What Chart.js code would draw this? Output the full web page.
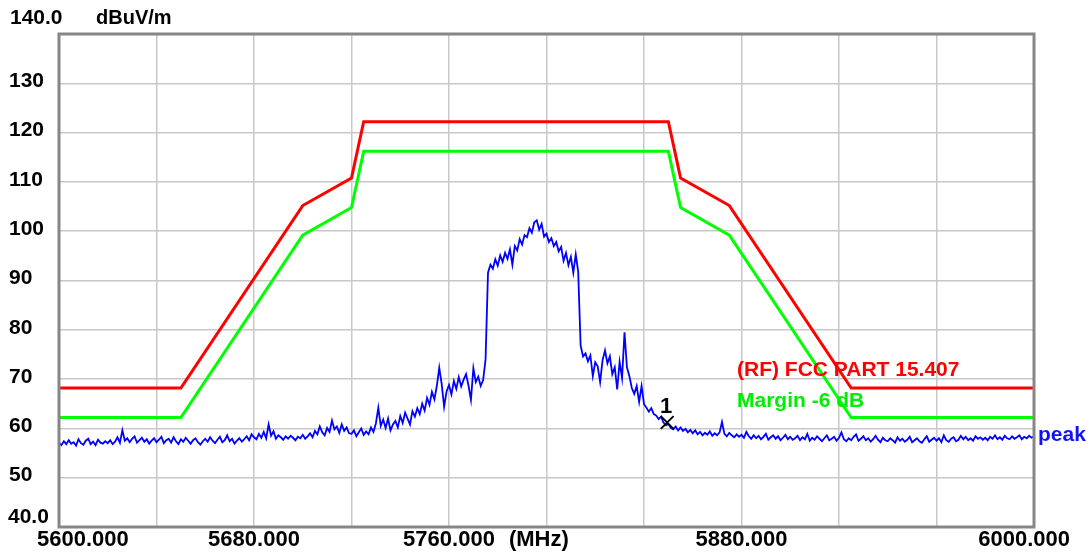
<!DOCTYPE html>
<html>
<head>
<meta charset="utf-8">
<script src="https://cdn.jsdelivr.net/npm/chart.js@4.4.1/dist/chart.umd.min.js"></script>
<style>
  html, body { margin: 0; padding: 0; background: #fff; }
  #wrap { width: 1091px; height: 555px; position: relative; }
</style>
</head>
<body>
<div id="wrap"><canvas id="myChart"></canvas></div>
<script>
// data

const FREQ_START = 5600;   // MHz, first trace sample
const FREQ_STEP = 1;       // MHz between trace samples

// measured peak trace, dBuV/m, 5600..6000 MHz
const peakTrace = [
  57.1, 56.6, 57.4, 56.8, 57.6, 56.9, 57.2, 56.5, 57.8, 57.0, 56.7, 57.5, 57.9, 56.8, 57.3, 56.6, 57.7, 57.1, 56.9, 57.4,
  57.0, 57.6, 56.8, 57.3, 58.2, 57.1, 59.6, 57.5, 58.0, 57.2, 57.9, 58.4, 57.1, 57.6, 58.1, 57.3, 57.8, 56.9, 57.5, 58.0,
  57.2, 57.7, 58.3, 57.0, 57.6, 57.9, 57.1, 58.2, 57.4, 56.8, 57.8, 57.3, 58.1, 57.5, 56.9, 57.6, 58.0, 57.2, 56.7, 57.4,
  57.9, 57.3, 58.2, 57.5, 57.0, 57.7, 58.3, 57.2, 57.6, 58.6, 57.4, 57.9, 56.9, 57.5, 58.0, 57.3, 57.8, 58.4, 57.6, 58.8,
  58.2, 57.8, 58.9, 58.1, 59.3, 58.0, 60.8, 58.5, 59.4, 57.9, 58.6, 58.2, 57.7, 58.4, 57.9, 58.5, 58.1, 57.6, 58.3, 58.0,
  58.7, 57.9, 58.4, 59.0, 58.2, 59.5, 58.8, 60.4, 59.2, 58.6, 60.1, 59.3, 61.6, 59.8, 60.4, 59.1, 60.8, 59.5, 60.2, 59.0,
  58.9, 59.6, 58.4, 59.2, 60.0, 58.7, 59.4, 58.8, 60.2, 59.3, 61.0, 64.2, 60.5, 61.8, 60.1, 62.0, 59.6, 60.8, 61.5, 60.2,
  62.5, 61.1, 63.2, 62.0, 60.8, 63.5, 62.4, 64.1, 62.9, 65.0, 63.6, 66.2, 64.8, 67.4, 65.9, 68.6, 72.3, 69.0, 64.4, 67.5,
  68.8, 66.9, 69.6, 68.0, 70.4, 68.5, 69.9, 71.0, 68.7, 65.8, 72.2, 69.4, 70.5, 68.6, 69.8, 74.0, 91.6, 93.2, 92.4, 94.3,
  93.0, 95.1, 93.8, 95.6, 94.4, 96.3, 93.2, 97.0, 96.1, 98.4, 97.3, 99.2, 98.8, 100.6, 99.7, 101.8, 102.2, 100.3, 101.5, 98.9,
  99.5, 97.8, 98.6, 97.0, 97.8, 95.9, 96.8, 94.0, 95.6, 93.1, 94.8, 91.6, 95.3, 91.8, 76.8, 74.6, 75.2, 73.6, 74.8, 70.6,
  73.4, 72.6, 69.4, 73.8, 75.8, 73.2, 74.6, 71.0, 72.4, 67.9, 73.5, 70.2, 79.5, 72.4, 70.6, 68.2, 67.0, 68.6, 65.4, 68.6,
  64.9, 64.2, 63.4, 64.1, 62.9, 62.6, 61.9, 62.4, 61.2, 60.6, 60.9, 60.1, 59.8, 60.4, 59.6, 60.2, 59.5, 59.9, 59.2, 59.7,
  59.0, 59.6, 58.8, 59.3, 58.6, 59.1, 58.7, 59.4, 58.5, 59.0, 58.6, 59.2, 61.3, 58.9, 58.4, 59.1, 58.6, 58.2, 58.8, 58.3,
  58.7, 58.1, 59.3, 58.4, 57.9, 58.6, 58.0, 58.5, 57.8, 58.3, 58.9, 57.7, 58.2, 58.6, 57.9, 58.4, 57.6, 58.1, 58.7, 57.8,
  58.3, 57.7, 58.0, 58.5, 57.6, 58.2, 57.8, 58.9, 57.5, 58.1, 57.7, 58.4, 57.9, 57.4, 58.0, 58.6, 57.6, 57.9, 58.3, 57.5,
  58.1, 59.2, 57.8, 57.4, 58.0, 57.6, 58.3, 58.8, 57.5, 57.9, 58.4, 57.6, 58.0, 57.3, 57.8, 58.5, 57.7, 57.2, 58.1, 57.6,
  57.4, 58.0, 57.6, 57.1, 58.2, 57.5, 57.9, 57.3, 57.7, 58.3, 57.2, 57.6, 58.0, 57.4, 57.1, 57.8, 58.4, 57.3, 57.7, 58.1,
  57.5, 58.0, 57.2, 58.6, 57.6, 57.3, 57.9, 58.2, 57.4, 57.7, 58.5, 57.8, 58.3, 57.6, 58.0, 57.5, 58.4, 57.9, 58.2, 57.7,
  58.1, 57.6, 58.3, 57.9, 58.6, 57.8, 58.2, 57.7, 58.5, 58.0, 57.8, 58.4, 57.9, 58.2, 58.6, 57.8, 58.3, 58.0, 58.5, 58.1,
  58.4
];

// FCC 15.407 limit mask and the -6 dB margin line
const limitFreqs  = [5600, 5650, 5700, 5720, 5725, 5850, 5855, 5875, 5925, 6000];
const limitLevels = [68.2, 68.2, 105.2, 110.8, 122.2, 122.2, 110.8, 105.2, 68.2, 68.2];
const marginLevels = [62.2, 62.2, 99.2, 104.8, 116.2, 116.2, 104.8, 99.2, 62.2, 62.2];

// marker 1
const markerFreqs  = [5849.5];
const markerLevels = [61.2];
const markerNames  = ['1'];

// axes
const yMin = 40, yMax = 140, yStep = 10;
const yTickLabels = [50, 60, 70, 80, 90, 100, 110, 120, 130];
const xMin = 5600, xMax = 6000, xStep = 40;
const xLabelFreqs = [5600, 5680, 5760, 5880, 6000];
const xLabelTexts = ['5600.000', '5680.000', '5760.000', '5880.000', '6000.000'];

// init

const FONT = '"Liberation Sans", Arial, sans-serif';
const GRID = '#c8c8c8';
const FRAME = '#868686';

const tracePoints = peakTrace.map((v, i) => ({x: FREQ_START + i * FREQ_STEP, y: v}));
const limitPoints = limitFreqs.map((f, i) => ({x: f, y: limitLevels[i]}));
const marginPoints = limitFreqs.map((f, i) => ({x: f, y: marginLevels[i]}));
const markerPoints = markerFreqs.map((f, i) => ({x: f, y: markerLevels[i]}));

const labelsPlugin = {
    id: 'labels',
    afterDraw(chart) {
        const ctx = chart.ctx;
        const xs = chart.scales.x, ys = chart.scales.y, a = chart.chartArea;
        ctx.save();

        // frame
        ctx.strokeStyle = FRAME;
        ctx.lineWidth = 3;
        ctx.strokeRect(a.left, a.top, a.right - a.left, a.bottom - a.top);

        ctx.textBaseline = 'middle';
        ctx.fillStyle = '#000';
        ctx.font = 'bold 21px ' + FONT;
        ctx.textAlign = 'left';

        // y labels
        yTickLabels.forEach(v => {
            ctx.fillText(String(v), 9, ys.getPixelForValue(v) - 2);
        });
        ctx.fillText(yMax.toFixed(1), 10, 18);
        ctx.fillText(yMin.toFixed(1), 8, ys.getPixelForValue(yMin) - 10);
        ctx.font = 'bold 20px ' + FONT;
        ctx.fillText('dBuV/m', 96, 18);

        // x labels
        ctx.font = 'bold 22px ' + FONT;
        xLabelFreqs.forEach((f, i) => {
            const px = xs.getPixelForValue(f);
            const w = ctx.measureText(xLabelTexts[i]).width;
            let left = px - w / 2;
            if (i === 0) left = 37;
            if (i === xLabelFreqs.length - 1) left = 1070 - w;
            ctx.fillText(xLabelTexts[i], left, 540);
            if (f === 5760) ctx.fillText('(MHz)', left + w + 14, 540);
        });

        // legend-ish texts on the plot
        ctx.font = 'bold 21px ' + FONT;
        ctx.fillStyle = '#ff0000';
        ctx.fillText('(RF) FCC PART 15.407', 737, 370);
        ctx.fillStyle = '#00ee00';
        ctx.fillText('Margin -6 dB', 737, 401);
        ctx.fillStyle = '#1010ff';
        ctx.fillText('peak', 1038, 435);

        // marker name
        ctx.fillStyle = '#000';
        ctx.font = 'bold 22px ' + FONT;
        ctx.textAlign = 'center';
        markerPoints.forEach((p, i) => {
            ctx.fillText(markerNames[i], xs.getPixelForValue(p.x) - 1, ys.getPixelForValue(p.y) - 16);
        });

        ctx.restore();
    }
};

let spectrum = new Chart(document.getElementById('myChart'), {
    type: 'line',
    data: {
        datasets: [
            {
                label: '(RF) FCC PART 15.407',
                data: limitPoints,
                borderColor: '#ff0000',
                borderWidth: 3,
                pointRadius: 0,
                order: 3
            },
            {
                label: 'Margin -6 dB',
                data: marginPoints,
                borderColor: '#00ff00',
                borderWidth: 3,
                pointRadius: 0,
                order: 2
            },
            {
                label: 'peak',
                data: tracePoints,
                borderColor: '#0000ff',
                borderWidth: 1.8,
                pointRadius: 0,
                order: 1
            },
            {
                type: 'scatter',
                label: 'marker',
                data: markerPoints,
                pointStyle: 'crossRot',
                pointRadius: 9,
                borderColor: '#000',
                borderWidth: 2,
                order: 0
            }
        ]
    },
    options: {
        responsive: true,
        maintainAspectRatio: false,
        animation: false,
        events: [],
        layout: {padding: {left: 59, top: 34, right: 57, bottom: 28}},
        plugins: {legend: {display: false}, tooltip: {enabled: false}},
        scales: {
            x: {
                type: 'linear',
                min: xMin,
                max: xMax,
                ticks: {stepSize: xStep, display: false},
                grid: {color: GRID, lineWidth: 1.5, drawTicks: false},
                border: {display: false}
            },
            y: {
                type: 'linear',
                min: yMin,
                max: yMax,
                ticks: {stepSize: yStep, display: false},
                grid: {color: GRID, lineWidth: 1.5, drawTicks: false},
                border: {display: false}
            }
        }
    },
    plugins: [labelsPlugin]
});
</script>
</body>
</html>
